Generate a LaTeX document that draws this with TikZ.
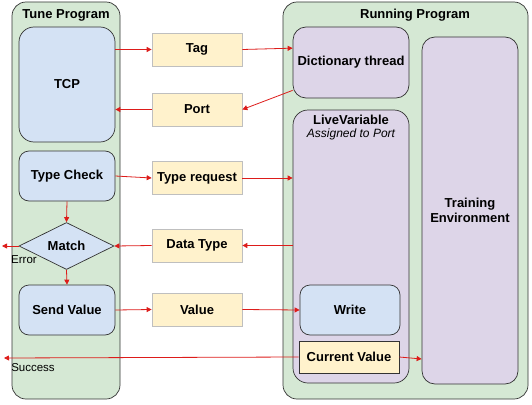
\documentclass[tikz,border=0pt]{standalone}
\usepackage{fontspec}
\setmainfont{Liberation Sans}
\usetikzlibrary{shapes.geometric,arrows.meta,calc}
\definecolor{grn}{HTML}{D5E8D4}
\definecolor{blu}{HTML}{D4E2F4}
\definecolor{org}{HTML}{FFF2CC}
\definecolor{pur}{HTML}{DDD5E8}
\definecolor{arr}{HTML}{DD1C1A}
\definecolor{edge}{HTML}{333333}
\begin{document}
\begin{tikzpicture}[x=1pt,y=-1pt,
  box/.style={draw=edge,line width=0.7pt,inner sep=0pt,align=center,
    font=\fontsize{13}{15.5}\selectfont\bfseries},
  grnbox/.style={box,fill=grn,rounded corners=14pt},
  blubox/.style={box,fill=blu,rounded corners=10pt},
  orgbox/.style={box,fill=org,draw=black!25,minimum width=90pt,minimum height=33pt},
  purbox/.style={box,fill=pur,rounded corners=13pt},
  conn/.style={draw=arr,line width=0.8pt,-{Triangle[length=5pt,width=5pt]}},
  lbl/.style={font=\fontsize{13}{15.5}\selectfont\bfseries,inner sep=0pt},
  small/.style={font=\fontsize{11.5}{13}\selectfont,inner sep=0pt}]
\useasboundingbox (0,0) rectangle (532,404);

% containers
\node[grnbox,minimum width=108pt,minimum height=397pt] (tune) at (66,200.5) {};
\node[lbl] (tunet) at (66,15) {Tune Program};
\node[grnbox,minimum width=245pt,minimum height=397pt] (run) at (405.5,200.5) {};
\node[lbl] (runt) at (415,15) {Running Program};

% tune program contents
\node[blubox,rounded corners=15pt,minimum width=96pt,minimum height=115pt] (tcp) at (67,84.5) {TCP};
\node[blubox,minimum width=96pt,minimum height=50pt] (tc) at (67,176) {Type Check};
\node[box,fill=blu,diamond,aspect=2,minimum width=95pt,minimum height=47pt] (match) at (66.5,246) {Match};
\node[blubox,minimum width=96pt,minimum height=50pt] (sv) at (67,310) {Send Value};

% middle messages
\node[orgbox] (tag) at (197,49.5) {Tag};
\node[orgbox] (port) at (197,109.5) {Port};
\node[orgbox] (treq) at (197,178) {Type request};
\node[orgbox] (dt) at (197,245.5) {Data Type};
\node[orgbox] (val) at (197,309.5) {Value};

% running program contents
\node[purbox,minimum width=116pt,minimum height=71pt] (dict) at (351,62.5) {Dictionary thread};
\node[purbox,rounded corners=15pt,minimum width=116pt,minimum height=273pt] (lv) at (351,246.5) {};
\node[lbl] (lvt) at (351,120) {LiveVariable};
\node[small,font=\fontsize{12}{14}\selectfont\itshape] (lvs) at (351,134) {Assigned to Port};
\node[purbox,minimum width=96pt,minimum height=347pt] (te) at (470,210.5) {Training\\Environment};
\node[blubox,minimum width=100pt,minimum height=50pt] (wr) at (350,310) {Write};
\node[box,fill=org,minimum width=100pt,minimum height=32pt] (cv) at (349,357) {Current Value};

% free ends and labels
\coordinate (errend) at (2,246);
\coordinate (sucend) at (4,358);
\node[small] (err) at (24,260) {Error};
\node[small] (suc) at (33,368) {Success};

% connectors
\draw[conn] (tcp.east |- tag.west) -- (tag.west);
\draw[conn] (tag.east) -- ($(dict.north west)!0.3!(dict.south west)$);
\draw[conn] ($(dict.south west)+(0,-8)$) -- (port.east);
\draw[conn] (port.west) -- (port.west -| tcp.east);
\draw[conn] (tc.east) -- (treq.west);
\draw[conn] (treq.east) -- (treq.east -| lv.west);
\draw[conn] (dt.east -| lv.west) -- (dt.east);
\draw[conn] (dt.west) -- (match.east);
\draw[conn] (tc.south) -- (match.north);
\draw[conn] (match.south) -- (sv.north);
\draw[conn] (match.west) -- (errend);
\draw[conn] (sv.east) -- (val.west);
\draw[conn] (val.east) -- (wr.west);
\draw[conn] (cv.west) -- (sucend);
\draw[conn] (cv.east) -- ($(cv.east -| te.west)+(0,2)$);
\end{tikzpicture}
\end{document}
